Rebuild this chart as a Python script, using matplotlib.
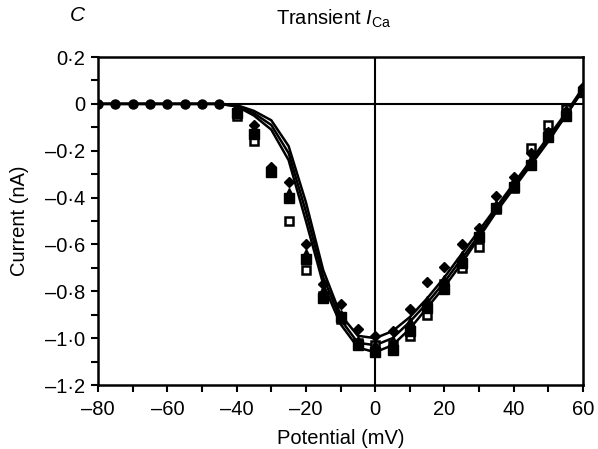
import matplotlib
matplotlib.use("Agg")
import matplotlib.pyplot as plt
from matplotlib.ticker import MultipleLocator, FuncFormatter

plt.rcParams['font.family'] = ['Liberation Sans', 'DejaVu Sans']
plt.rcParams['mathtext.fontset'] = 'custom'
plt.rcParams['mathtext.rm'] = 'Liberation Sans'
plt.rcParams['mathtext.it'] = 'Liberation Sans:italic'

# ---- data ----
flat_v = [-80, -75, -70, -65, -60, -55, -50, -45]
flat_i = [0, 0, 0, 0, 0, 0, 0, 0]

pts_v = [-40, -35, -30, -25, -20, -15, -10, -5, 0, 5, 10, 15, 20, 25, 30, 35, 40, 45, 50, 55, 60]
diamond_i = [-0.02, -0.09, -0.27, -0.335, -0.60, -0.77, -0.855, -0.96, -0.99, -0.97, -0.875,
             -0.76, -0.695, -0.60, -0.53, -0.395, -0.31, -0.21, -0.12, -0.03, 0.07]
triangle_i = [-0.03, -0.11, -0.28, -0.38, -0.64, -0.80, -0.90, -1.01, -1.03, -1.01, -0.93,
              -0.84, -0.75, -0.65, -0.55, -0.43, -0.33, -0.24, -0.13, -0.04, 0.06]
fsquare_i = [-0.04, -0.13, -0.29, -0.40, -0.66, -0.83, -0.91, -1.03, -1.06, -1.05, -0.97,
             -0.87, -0.79, -0.68, -0.57, -0.445, -0.355, -0.26, -0.14, -0.05, 0.05]
osquare_i = [-0.05, -0.16, -0.29, -0.50, -0.71, -0.82, -0.92, -1.02, -1.03, -1.03, -0.99,
             -0.90, -0.77, -0.70, -0.61, -0.45, -0.36, -0.19, -0.09, -0.02, 0.05]

line_v = [-80, -75, -70, -65, -60, -55, -50, -45, -40, -35, -30, -25, -20, -15, -10, -5, 0,
          5, 10, 15, 20, 25, 30, 35, 40, 45, 50, 55, 60]
line1_i = [0, 0, 0, 0, 0, 0, 0, 0, -0.005, -0.03, -0.07, -0.18, -0.42, -0.71, -0.90, -0.99, -1.00,
           -0.97, -0.91, -0.83, -0.74, -0.64, -0.54, -0.44, -0.34, -0.24, -0.14, -0.04, 0.07]
line2_i = [0, 0, 0, 0, 0, 0, 0, 0, -0.01, -0.04, -0.09, -0.21, -0.46, -0.74, -0.92, -1.02, -1.03,
           -1.00, -0.93, -0.85, -0.76, -0.66, -0.56, -0.45, -0.35, -0.25, -0.15, -0.05, 0.06]
line3_i = [0, 0, 0, 0, 0, 0, 0, 0, -0.01, -0.05, -0.11, -0.24, -0.50, -0.77, -0.94, -1.04, -1.06,
           -1.03, -0.96, -0.87, -0.78, -0.68, -0.57, -0.46, -0.36, -0.26, -0.16, -0.05, 0.06]

x_ticks = [-80, -60, -40, -20, 0, 20, 40, 60]
y_ticks = [0.2, 0, -0.2, -0.4, -0.6, -0.8, -1.0, -1.2]

# ---- figure ----
fig = plt.figure(figsize=(5.98, 4.49), dpi=100)
ax = fig.add_axes([0.164, 0.1425, 0.811, 0.7305])
ax.set_xlim(-80, 60)
ax.set_ylim(-1.2, 0.2)

ax.axhline(0, color='black', lw=1.5, zorder=1)
ax.axvline(0, color='black', lw=1.5, zorder=1)

for li in (line1_i, line2_i, line3_i):
    ax.plot(line_v, li, color='black', lw=1.8, zorder=2)

ax.plot(flat_v, flat_i, 'o', color='black', ms=6.5, zorder=3, ls='none')
ax.plot(pts_v, osquare_i, 's', mfc='white', mec='black', mew=1.8, ms=6, ls='none', zorder=3)
ax.plot(pts_v, fsquare_i, 's', color='black', ms=6.5, ls='none', zorder=4)
ax.plot(pts_v, triangle_i, '^', color='black', ms=6.5, ls='none', zorder=4)
ax.plot(pts_v, diamond_i, 'D', color='black', ms=5.5, ls='none', zorder=4)

for s in ax.spines.values():
    s.set_linewidth(1.8)

ax.set_xticks(x_ticks)
ax.xaxis.set_minor_locator(MultipleLocator(10))
ax.set_yticks(y_ticks)
ax.yaxis.set_minor_locator(MultipleLocator(0.1))

def fmt_x(v, pos):
    v = int(round(v))
    return ('\u2013' + str(-v)) if v < 0 else str(v)

def fmt_y(v, pos):
    if abs(v) < 1e-9:
        return '0'
    s = '%.1f' % abs(v)
    s = s.replace('.', '\u00b7')
    return ('\u2013' + s) if v < 0 else s

ax.xaxis.set_major_formatter(FuncFormatter(fmt_x))
ax.yaxis.set_major_formatter(FuncFormatter(fmt_y))
ax.tick_params(axis='both', which='both', direction='out', width=1.5, labelsize=14.5,
               top=False, right=False, length=5)
ax.tick_params(axis='x', pad=6)
ax.tick_params(axis='y', pad=4)

ax.set_xlabel('Potential (mV)', fontsize=14.5, labelpad=7)
ax.set_ylabel('Current (nA)', fontsize=14.5, labelpad=12)

fig.text(0.117, 0.965, 'C', fontsize=15, style='italic', ha='left', va='center')
fig.text(0.557, 0.957, r'Transient $\mathit{I}_{\mathrm{Ca}}$', fontsize=14.5, ha='center', va='center')

fig.savefig('out.png', dpi=100)
